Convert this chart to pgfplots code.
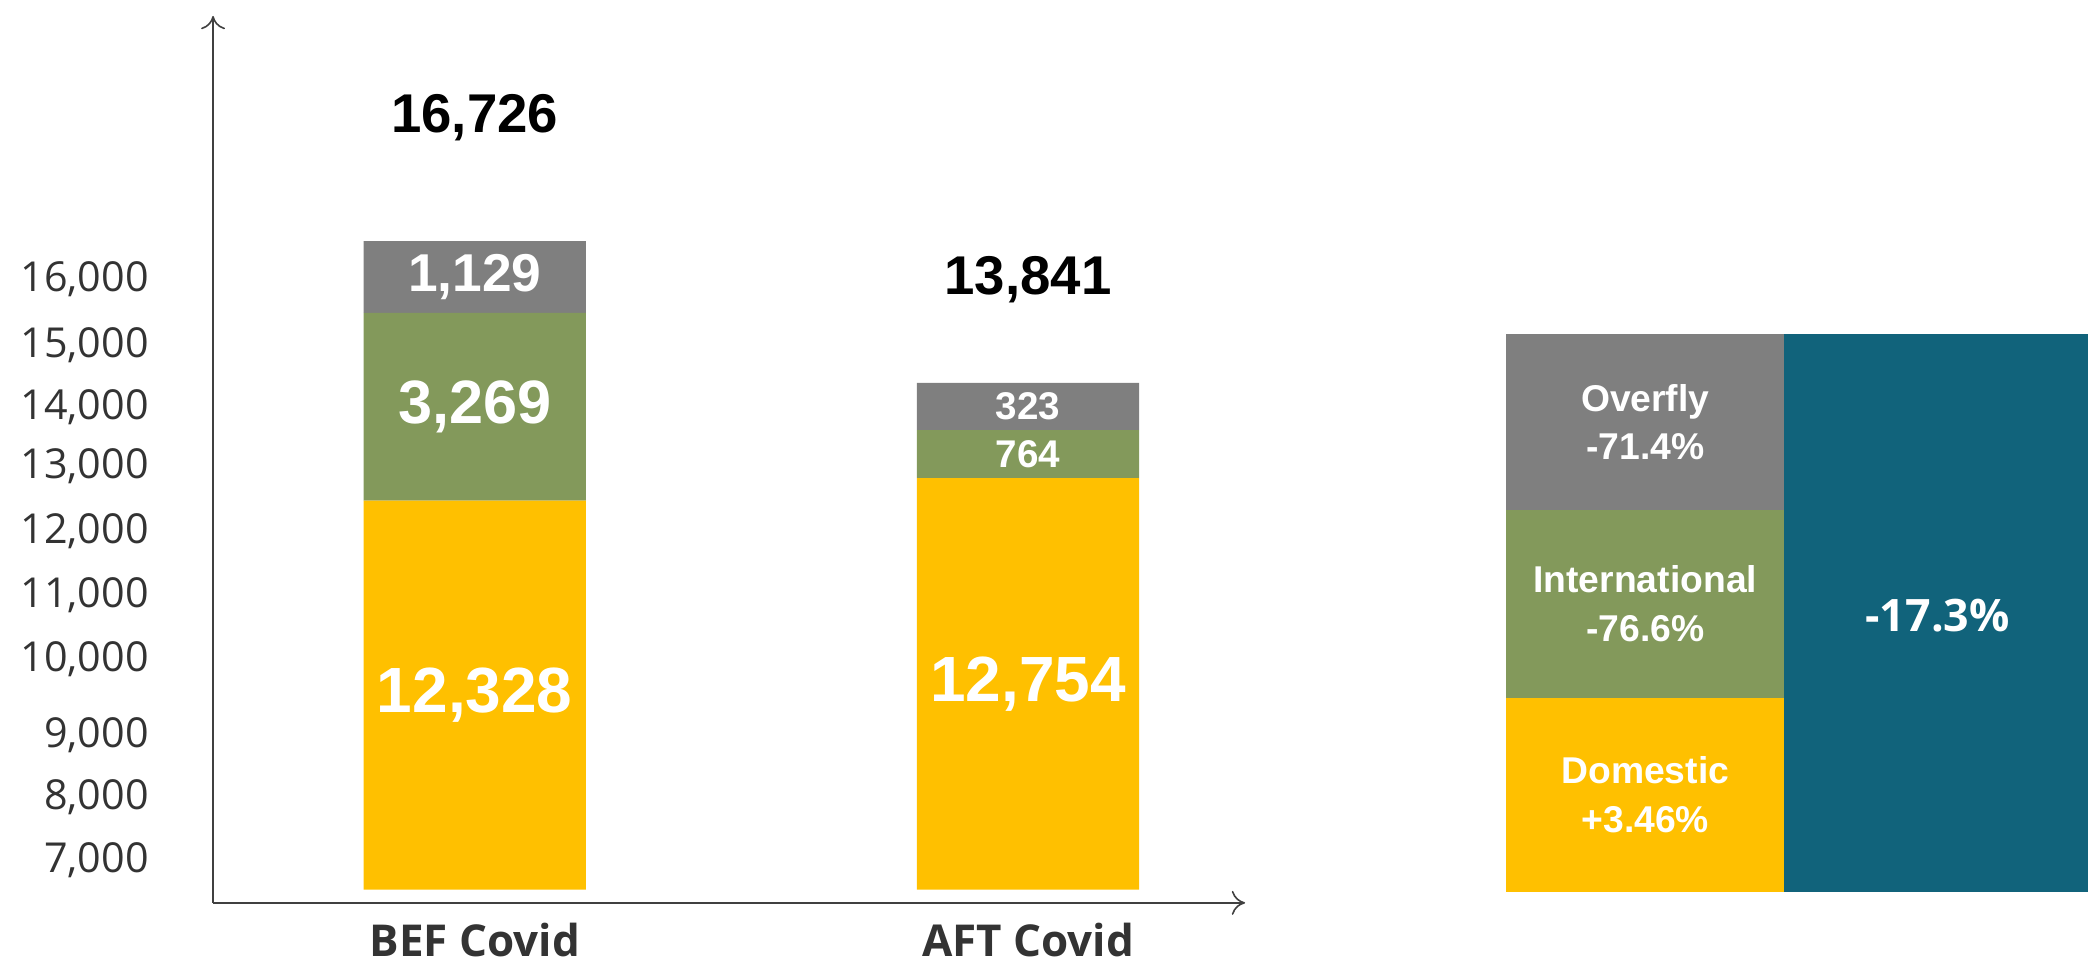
\documentclass[border=0pt]{standalone}
\usepackage{pgfplots}
\pgfplotsset{compat=1.18}
\usetikzlibrary{arrows.meta}
\usepackage{fontspec}
\setmainfont{Open Sans}
\newfontfamily\arialfont{Liberation Sans}
\definecolor{cgray}{HTML}{7F7F7F}
\definecolor{cgreen}{HTML}{83995B}
\definecolor{cyellow}{HTML}{FFC000}
\definecolor{cteal}{HTML}{11637B}
\definecolor{axisgray}{HTML}{404040}
\definecolor{txtgray}{HTML}{333333}
\tikzset{
  seg/.style={text=white, font=\arialfont\bfseries\fontsize{#1}{#1}\selectfont},
  tot/.style={text=black, font=\arialfont\bfseries\fontsize{20.5}{20.5}\selectfont},
  pan/.style={text=white, align=center, font=\arialfont\bfseries\fontsize{14}{18.3}\selectfont},
}
\begin{document}
\begin{tikzpicture}
\path[use as bounding box] (0,0) rectangle (784pt,361.5pt);
% ---------------- main stacked bar chart ----------------
% bar heights are drawn on the chart's own (non-linear) visual scale;
% the real values are printed on the segments
\begin{axis}[
  at={(80pt,22.5pt)}, anchor=south west,
  scale only axis, width=387.5pt, height=333pt,
  xmin=160, xmax=935, ymin=-10, ymax=656,
  enlargelimits=false, clip=false,
  axis lines=left,
  axis line style={draw=axisgray, line width=0.6pt, -{To[length=5pt,width=9pt]}},
  ybar stacked, bar width=83.5pt,
  xtick={356.5,772}, xticklabels={BEF Covid,AFT Covid},
  ytick={22,69,116,173,221,269,318,362,409,458},
  yticklabels={{7,000},{8,000},{9,000},{10,000},{11,000},{12,000},{13,000},{14,000},{15,000},{16,000}},
  major tick length=0pt,
  xticklabel style={anchor=base, inner sep=0pt, yshift=-20pt, text=txtgray,
    font=\bfseries\fontsize{16.5}{16.5}\selectfont},
  yticklabel style={anchor=east, inner sep=0pt, xshift=-24pt, text=txtgray,
    font=\fontsize{15.5}{15.5}\selectfont},
  after end axis/.code={
    \node[seg=24] at (axis cs:356.5,146) {12,328};
    \node[seg=23] at (axis cs:356.5,362.5) {3,269};
    \node[seg=20] at (axis cs:356.5,460) {1,129};
    \node[seg=24] at (axis cs:772,154.5) {12,754};
    \node[seg=14.5] at (axis cs:772,327) {764};
    \node[seg=14.5] at (axis cs:772,362.75) {323};
    \node[tot] at (axis cs:356.5,580) {16,726};
    \node[tot] at (axis cs:772,458) {13,841};
  },
]
% Domestic (12,328 ; 12,754)
\addplot[fill=cyellow, draw=none] coordinates {(356.5,292) (772,309)};
% International (3,269 ; 764)
\addplot[fill=cgreen, draw=none] coordinates {(356.5,141) (772,36)};
% Overfly (1,129 ; 323)
\addplot[fill=cgray, draw=none] coordinates {(356.5,54) (772,35.5)};
\end{axis}
% ---------------- change panel ----------------
\begin{axis}[
  at={(565.5pt,26.5pt)}, anchor=south west,
  scale only axis, width=218.5pt, height=209.5pt,
  xmin=1131, xmax=1568, ymin=0, ymax=419,
  enlargelimits=false, clip=false,
  axis lines=none,
  ybar stacked,
  after end axis/.code={
    \node[pan] at (axis cs:1235.5,353) {Overfly\\-71.4\%};
    \node[pan] at (axis cs:1235.5,216.5) {International\\-76.6\%};
    \node[pan] at (axis cs:1235.5,73) {Domestic\\+3.46\%};
    \node[text=white, font=\bfseries\fontsize{16.8}{16.8}\selectfont] at (axis cs:1455,207.5) {-17.3\%};
  },
]
\addplot[fill=cyellow, draw=none, bar width=104.5pt] coordinates {(1235.5,146) (1454,0)};
\addplot[fill=cgreen, draw=none, bar width=104.5pt] coordinates {(1235.5,141) (1454,0)};
\addplot[fill=cgray, draw=none, bar width=104.5pt] coordinates {(1235.5,132) (1454,0)};
\addplot[fill=cteal, draw=none, bar width=114pt] coordinates {(1235.5,0) (1454,419)};
\end{axis}
\end{tikzpicture}
\end{document}
